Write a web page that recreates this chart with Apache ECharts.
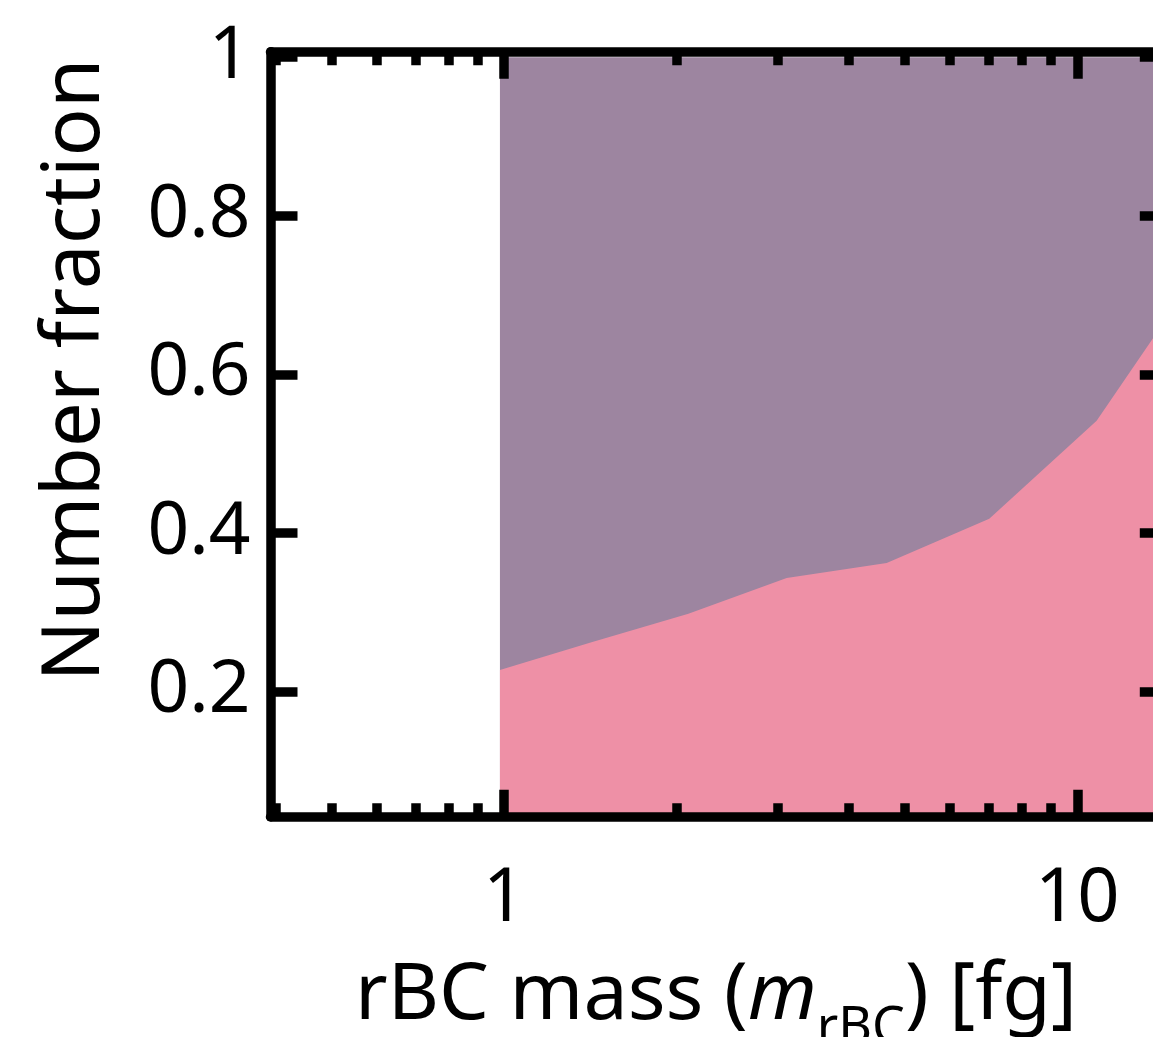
<!DOCTYPE html>
<html>
<head>
<meta charset="utf-8">
<script src="https://cdn.jsdelivr.net/npm/echarts@6/dist/echarts.min.js"></script>
<style>
  html, body { margin: 0; padding: 0; background: #ffffff; overflow: hidden; }
  #chart { width: 1153px; height: 1037px; }
</style>
</head>
<body>
<div id="chart"></div>
<script>
// rBC mass of each bin [fg]
const rbcMass = [0.983, 1.42, 2.096, 3.111, 4.65, 7.022, 10.81, 14.33];
// number fraction of the lower (pink) class in each bin
const fractionLower = [0.227, 0.262, 0.298, 0.343, 0.362, 0.418, 0.5415, 0.671];
// number fraction of the upper (purple) class in each bin
const fractionUpper = [0.773, 0.738, 0.702, 0.657, 0.638, 0.582, 0.4585, 0.329];
// tick positions
const xMajorTicks = [1, 10];
const xMinorTicks = [0.4, 0.5, 0.6, 0.7, 0.8, 0.9, 2, 3, 4, 5, 6, 7, 8, 9];
const yTicks = [0.2, 0.4, 0.6, 0.8, 1];

const FONT = 'Noto Sans';
const X_MIN = 0.391, X_MAX = 14.33;
const Y_MIN = 0.042, Y_MAX = 1.007;
const LINE_W = 9.5;

function xAxisDef(position, ticks, len, showLine, showLabels) {
  return {
    type: 'log', logBase: 10, position: position, min: X_MIN, max: X_MAX, z: 5,
    axisLine: { show: showLine, lineStyle: { color: '#000', width: LINE_W } },
    axisTick: { show: true, inside: true, length: len, customValues: ticks,
                lineStyle: { color: '#000', width: LINE_W } },
    minorTick: { show: false },
    axisLabel: showLabels
      ? { show: true, customValues: ticks, margin: 46, fontSize: 74, fontFamily: FONT, color: '#000' }
      : { show: false },
    splitLine: { show: false }
  };
}

function yAxisDef(position, showLabels) {
  return {
    type: 'value', position: position, min: Y_MIN, max: Y_MAX, z: 5,
    axisLine: { show: true, lineStyle: { color: '#000', width: LINE_W } },
    axisTick: { show: true, inside: true, length: 27, customValues: yTicks,
                lineStyle: { color: '#000', width: LINE_W } },
    axisLabel: showLabels
      ? { show: true, customValues: yTicks, margin: 20, fontSize: 73, fontFamily: FONT, color: '#000' }
      : { show: false },
    splitLine: { show: false }
  };
}

// cumulative top of the two stacked classes
const stackTop = fractionLower.map((v, i) => v + fractionUpper[i]);

const chart = echarts.init(document.getElementById('chart'), null, { renderer: 'canvas' });

chart.setOption({
  animation: false,
  backgroundColor: '#ffffff',
  grid: { left: 270.5, top: 51.7, width: 896.3, height: 765, containLabel: false, outerBoundsMode: 'none' },
  xAxis: [
    xAxisDef('bottom', xMajorTicks, 27, true, true),
    xAxisDef('bottom', xMinorTicks, 13.5, false, false),
    xAxisDef('top', xMajorTicks, 27, true, false),
    xAxisDef('top', xMinorTicks, 13.5, false, false)
  ],
  yAxis: [
    yAxisDef('left', true),
    yAxisDef('right', false)
  ],
  series: [
    {
      name: 'upper class', type: 'line',
      xAxisIndex: 0, yAxisIndex: 0,
      data: rbcMass.map((m, i) => [m, stackTop[i]]),
      symbol: 'none', showSymbol: false, silent: true,
      lineStyle: { width: 0 },
      itemStyle: { color: '#9D85A0' },
      areaStyle: { color: '#9D85A0', opacity: 1 },
      z: 1
    },
    {
      name: 'lower class', type: 'line',
      xAxisIndex: 0, yAxisIndex: 0,
      data: rbcMass.map((m, i) => [m, fractionLower[i]]),
      symbol: 'none', showSymbol: false, silent: true,
      lineStyle: { width: 0 },
      itemStyle: { color: '#EE90A6' },
      areaStyle: { color: '#EE90A6', opacity: 1 },
      z: 2
    }
  ],
  graphic: [
    {
      type: 'text', x: 76, y: 370, rotation: Math.PI / 2, silent: true,
      style: {
        text: 'Number fraction', fill: '#000',
        font: '80px "Noto Sans"', align: 'center', verticalAlign: 'middle'
      }
    },
    {
      type: 'text', x: 716, y: 957, silent: true,
      style: {
        text: '{n|rBC mass (}{i|m}{s|rBC}{n|) [fg]}',
        align: 'center', verticalAlign: 'top', fill: '#000',
        rich: {
          n: { fontSize: 79, fontFamily: FONT, verticalAlign: 'top', fill: '#000' },
          i: { fontSize: 79, fontFamily: FONT, fontStyle: 'italic', verticalAlign: 'top', fill: '#000' },
          s: { fontSize: 52, fontFamily: FONT, verticalAlign: 'top', padding: [46, 0, 0, 0], fill: '#000' }
        }
      }
    }
  ]
});
</script>
</body>
</html>
